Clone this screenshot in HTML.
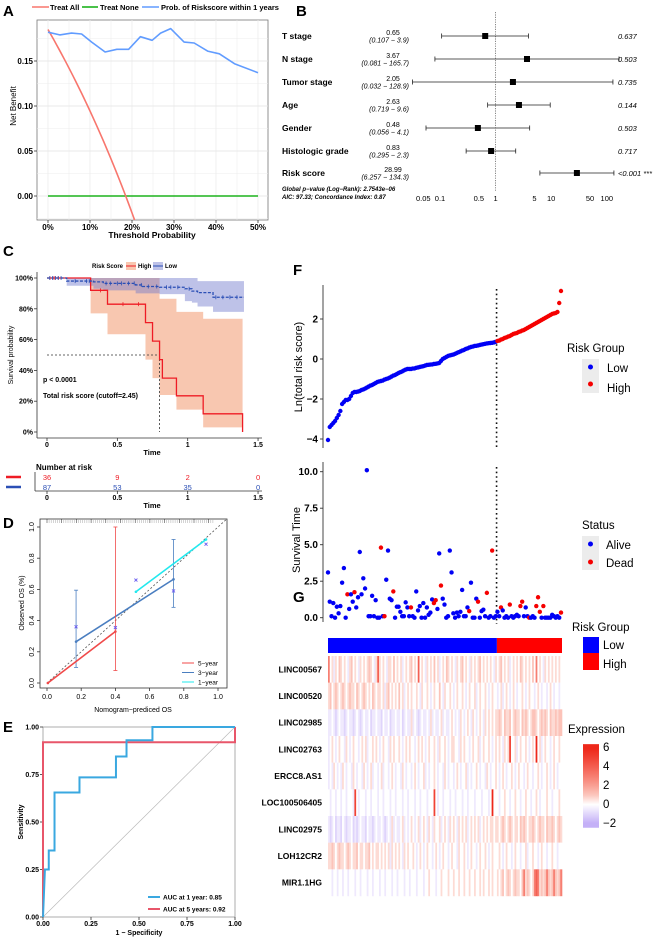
<!DOCTYPE html>
<html><head><meta charset="utf-8"><style>
body{margin:0;background:#fff}
svg{display:block;font-family:"Liberation Sans",sans-serif}
</style></head><body>
<svg id="fig" width="657" height="938" viewBox="0 0 657 938"></svg>
<script>
// ---------- Panel A data ----------
const dcaThresh=[0,2.8,5.6,8,10.4,13.6,16.4,19.2,22,24.8,26.8,29.2,32.4,34.8,38,40.8,44.4,50];
const dcaModel=[0.182,0.179,0.181,0.180,0.171,0.160,0.163,0.163,0.177,0.173,0.181,0.186,0.171,0.170,0.161,0.158,0.147,0.137];
const dcaPrev=0.185;
const dcaYTicks=[0,0.05,0.10,0.15];
const dcaXTicks=[0,10,20,30,40,50];
// ---------- Panel B data ----------
const fpVars=["T stage","N stage","Tumor stage","Age","Gender","Histologic grade","Risk score"];
const fpHR=[0.65,3.67,2.05,2.63,0.48,0.83,28.99];
const fpLo=[0.107,0.081,0.032,0.719,0.056,0.295,6.257];
const fpHi=[3.9,165.7,128.9,9.6,4.1,2.3,134.3];
const fpP=["0.637","0.503","0.735","0.144","0.503","0.717","<0.001 ***"];
const fpTicks=[0.05,0.1,0.5,1,5,10,50,100];
// ---------- Panel C data ----------
const kmHighT=[0,0.31,0.43,0.70,0.75,0.80,0.82,0.92,1.11,1.39];
const kmHighS=[1,0.92,0.83,0.71,0.59,0.47,0.35,0.235,0.118,0];
const kmHighU=[1,1,1,1,1,0.865,0.865,0.78,0.735,0.735];
const kmHighL=[1,0.77,0.635,0.47,0.35,0.24,0.24,0.145,0.03,0.03];
const kmLowT=[0,0.14,0.33,0.40,0.63,0.68,0.80,0.98,1.03,1.07,1.18,1.40];
const kmLowS=[1,0.98,0.975,0.965,0.955,0.945,0.94,0.93,0.915,0.905,0.875,0.875];
const kmLowU=[1,1,1,1,1,1,1,1,1,0.98,0.98,0.98];
const kmLowL=[1,0.95,0.93,0.92,0.9,0.9,0.895,0.85,0.84,0.815,0.78,0.78];
const censHigh=[0.02,0.05,0.08,0.38,0.54,0.65];
const censLow=[0.02,0.04,0.06,0.08,0.1,0.2,0.28,0.3,0.42,0.45,0.5,0.53,0.58,0.62,0.67,0.72,0.78,0.85,0.88,0.93,1.01,1.2,1.25,1.3,1.35];
const riskTimes=[0,0.5,1,1.5];
const riskHighN=[36,9,2,0];
const riskLowN=[87,53,35,0];
// ---------- Panel D data ----------
const cal5x=[0.005,0.40], cal5y=[0.0,0.33], cal5lo=[0,0.08], cal5hi=[0,1.0];
const cal3x=[0.17,0.74], cal3y=[0.265,0.665], cal3lo=[0.10,0.485], cal3hi=[0.595,0.92];
const cal1x=[0.52,0.93], cal1y=[0.585,0.92];
const calObsX=[0.17,0.40,0.74,0.52,0.93], calObsY=[0.36,0.355,0.59,0.66,0.89];
// ---------- Panel E data ----------
const roc1x=[0,0.01,0.03,0.03,0.06,0.06,0.19,0.19,0.38,0.38,0.435,0.435,0.57,0.57,1];
const roc1y=[0,0.25,0.25,0.35,0.35,0.655,0.655,0.735,0.735,0.845,0.845,0.93,0.93,1,1];
const roc5x=[0,0,1,1];
const roc5y=[0,0.92,0.92,1];
// ---------- Panel F data ----------
const riskLow=[-4.05,-3.4,-3.3,-3.2,-3.1,-2.95,-2.8,-2.6,-2.25,-2.15,-2.05,-2.05,-2.0,-1.85,-1.7,-1.65,-1.65,-1.63,-1.6,-1.55,-1.52,-1.48,-1.43,-1.38,-1.33,-1.3,-1.25,-1.2,-1.15,-1.12,-1.1,-1.08,-1.03,-1.0,-0.97,-0.93,-0.88,-0.83,-0.8,-0.75,-0.7,-0.66,-0.62,-0.57,-0.53,-0.5,-0.5,-0.5,-0.48,-0.47,-0.44,-0.42,-0.4,-0.38,-0.36,-0.33,-0.3,-0.29,-0.28,-0.27,-0.25,-0.24,-0.22,-0.2,-0.1,0.0,0.05,0.1,0.15,0.18,0.2,0.22,0.26,0.3,0.34,0.38,0.42,0.45,0.5,0.53,0.57,0.6,0.62,0.65,0.66,0.68,0.7,0.72,0.74,0.76,0.78,0.79,0.8,0.81,0.83,0.86];
const riskHigh=[0.9,0.92,0.97,1.0,1.05,1.08,1.12,1.15,1.2,1.25,1.28,1.3,1.35,1.38,1.42,1.45,1.5,1.55,1.6,1.65,1.7,1.75,1.8,1.85,1.9,1.95,2.0,2.05,2.1,2.15,2.2,2.25,2.28,2.3,2.35,2.8,3.4];
const survTime=[3.1,1.1,0.1,1.0,0,0.75,0.3,0.8,2.4,3.4,0,1.6,0.6,1.6,1.1,1.75,0.7,1.4,4.5,1.6,2.7,2.0,10.1,0.1,0.1,1.5,0.1,1.2,0,0,4.8,0.1,0.1,2.6,4.6,1.3,1.2,1.8,0,0.75,0.75,0.4,0.1,0.1,1.05,0.7,0.1,0.7,0.1,0,1.8,0.5,0.8,0,1.0,0,0.7,0.2,0.35,1.25,1.0,1.2,0.6,4.4,2.2,1.3,0.9,0,0.1,4.6,3.1,0.3,0,0.35,0.1,0.4,1.9,0.1,0.1,0.7,0.45,2.4,0,0,1.3,1.1,0,0.45,0.55,0.1,1.7,0,0.1,4.6,0,0.1,
0.4,0.1,0.7,0.5,0,0.1,0,0.9,0.1,0,0.1,0.2,0.1,0.8,1.1,0.1,0.7,0.1,0,0,0.1,0,0.8,1.4,0.4,0,0.8,0,0,0,0,0.2,0.1,0,0.1,0,0.35];
const survDead=[0,0,0,0,0,0,0,0,0,0,0,1,0,0,0,1,0,0,0,0,0,0,0,0,0,0,0,0,0,0,1,0,1,0,0,0,0,1,0,0,0,0,0,0,0,0,0,1,0,0,0,0,0,0,0,0,0,0,0,0,1,1,0,0,1,0,0,0,0,0,0,0,0,0,0,0,0,0,0,0,1,0,0,0,0,1,0,0,0,0,1,0,0,1,0,0,
0,0,1,0,0,0,0,1,0,0,0,0,0,1,1,0,0,0,1,0,0,0,1,1,1,0,1,0,0,0,0,0,0,0,0,0,1];
// ---------- Panel G data ----------
const genes=["LINC00567","LINC00520","LINC02985","LINC02763","ERCC8.AS1","LOC100506405","LINC02975","LOH12CR2","MIR1.1HG"];
const expr1=[3,0,1,-1,1,0,2,1,0,1,0,-1,1,2,0,1,0,-1,1,0,1,0,1,2,1,0,-1,1,4,1,0,1,0,-1,1,1,0,2,0,1,0,1,-1,0,1,0,1,2,0,1,0,4,0,1,0,-1,1,0,1,0,2,0,1,-1,0,1,0,2,1,0,1,0,-1,1,0,1,2,0,1,0,-1,1,0,1,0,1,2,0,1,0,1,0,1,0,-1,1,0,1,2,0,1,0,1,-1,0,1,0,1,0,2,1,0,1,0,1,0,2,0,3,0,1,0,-1,1,0,1,0,1,0,1,0,1,0];
const expr2=[1,2,0,1,2,1,0,1,2,1,0,1,2,1,1,0,2,1,0,1,2,1,0,1,0,2,1,0,1,1,0,1,-1,1,2,0,1,0,1,0,2,0,1,-1,0,1,0,1,0,0,1,0,-1,1,0,0,1,0,-1,0,1,0,0,2,0,-1,1,0,0,1,0,-1,0,1,0,0,1,0,-1,0,1,0,0,1,-1,0,1,0,0,1,0,-1,0,1,0,0,-1,0,1,-1,0,1,0,-1,0,1,0,-1,0,0,1,0,-1,0,1,0,0,-1,0,1,0,-1,0,0,-1,0,1,0,-1,0,0,-1,0];
const expr3=[-1,-1,0,-1,-2,-1,0,-1,-1,-2,-1,0,-1,-1,-2,-1,0,-1,-2,-1,0,-1,-1,0,-2,-1,-1,0,-1,-1,-2,0,-1,-1,0,-2,-1,-1,0,-1,-1,0,-2,-1,0,-1,-1,1,-1,0,-1,-2,-1,0,-1,-1,0,-1,1,-1,0,-1,-1,0,1,-1,0,-1,-1,0,1,0,-1,0,-1,1,0,-1,0,1,0,-1,1,0,-1,0,1,0,-1,1,0,1,0,1,0,1,1,2,1,0,2,1,1,2,0,1,2,1,1,0,2,1,2,1,0,1,2,2,1,0,1,2,1,2,1,0,2,1,1,2,1,2,2];
const expr4=[-1,0,1,0,-1,0,1,0,0,-1,1,0,-1,0,1,0,0,-1,0,1,0,1,-1,0,0,1,0,1,0,-1,0,1,0,0,-1,1,0,1,0,0,1,0,-1,0,1,0,1,0,0,-1,0,1,0,1,0,-1,0,1,0,0,1,0,-1,1,0,0,1,0,-1,0,1,1,0,0,-1,1,0,1,0,0,-1,0,1,0,0,1,-1,0,1,0,0,1,0,-1,0,1,0,1,0,-1,1,0,1,5,0,0,1,-1,0,1,0,0,1,0,-1,0,1,0,6,0,1,-1,0,1,0,0,-1,0,1,0,0,1,0];
const expr5=[-1,0,-1,1,0,-1,0,-1,1,0,-1,0,0,-1,1,0,-1,0,0,-1,1,0,-1,0,1,-1,0,0,-1,0,1,-1,0,0,-1,0,1,0,-1,0,0,-1,1,0,-1,0,0,-1,0,1,0,-1,0,0,1,-1,0,-1,0,0,1,0,-1,0,0,-1,1,0,-1,0,0,-1,0,1,0,-1,0,0,1,-1,0,-1,0,0,1,0,-1,0,0,-1,1,0,-1,0,0,1,0,-1,0,1,0,-1,0,0,1,0,-1,0,1,0,0,-1,0,1,0,0,-1,0,0,1,0,-1,0,0,1,0,-1,0,1,0,-1,0,0];
const expr6=[0,-1,0,0,-1,0,0,-1,0,0,-1,0,0,0,-1,5,0,-1,0,0,0,-1,0,0,-1,0,0,0,-1,0,0,-1,0,0,0,-1,0,0,-1,0,0,0,-1,0,0,-1,0,0,0,-1,0,0,-1,0,0,0,-1,0,0,0,5,0,-1,0,0,-1,0,0,0,-1,0,0,-1,0,0,0,-1,0,0,-1,0,0,0,-1,0,0,0,-1,0,0,0,-1,0,6,0,0,0,-1,0,0,1,0,0,-1,0,0,1,0,0,-1,0,0,1,0,0,-1,0,0,1,0,-1,0,0,0,1,0,0,-1,0,0,0,1,0];
const expr7=[-1,-2,-1,0,-2,-1,-1,-2,0,-1,-2,-1,-1,0,-2,-1,-2,-1,0,-1,-1,-2,0,-1,-1,-2,-1,0,-1,-1,0,-1,-2,-1,0,-1,1,-1,0,-1,-1,0,1,-1,0,-1,0,1,0,-1,0,1,-1,0,1,0,-1,1,0,-1,1,0,0,1,-1,0,1,0,-1,1,0,1,0,-1,1,0,1,0,1,-1,0,1,0,1,0,1,-1,0,1,0,1,0,1,1,0,1,1,0,1,2,1,0,1,2,1,0,1,1,0,2,1,2,1,0,1,1,2,1,0,1,2,1,1,0,2,1,1,2,1,0,1,2,1];
const expr8=[1,1,2,1,0,1,2,1,1,0,1,2,1,0,1,1,2,0,1,1,0,1,1,2,0,1,0,1,1,0,1,0,1,0,1,-1,1,0,1,0,1,0,-1,1,0,1,0,0,1,0,-1,0,1,0,-1,0,1,0,0,-1,0,1,0,-1,0,1,0,0,-1,0,1,0,0,-1,1,0,0,1,0,-1,0,1,0,0,-1,0,1,0,0,1,0,-1,0,1,0,0,0,1,0,-1,0,1,0,0,-1,0,1,0,0,-1,0,0,1,-1,0,0,1,0,0,-1,0,1,0,0,-1,0,0,1,0,0,-1,0,0];
const expr9=[0,0,-1,0,0,-1,0,0,-1,0,0,-1,0,0,0,-1,0,0,-1,0,0,0,-1,0,0,-1,0,0,0,-1,0,0,-1,0,0,0,-1,0,0,-1,0,0,0,-1,0,0,-1,0,0,0,-1,0,0,0,-1,0,0,1,0,0,0,-1,0,0,1,0,0,0,1,0,0,1,0,0,1,0,0,1,0,0,1,0,0,1,0,0,1,0,1,0,0,1,0,1,0,0,1,0,1,2,0,1,2,1,0,1,2,1,1,0,2,3,1,2,1,0,1,3,4,3,1,2,1,2,3,2,1,2,3,2,1,2,3];
const exprRows=[expr1,expr2,expr3,expr4,expr5,expr6,expr7,expr8,expr9];
const exprTicks=[6,4,2,0,-2];

// ---------- helpers ----------
const NS="http://www.w3.org/2000/svg";
const svg=document.getElementById('fig');
function mk(tag,attrs,parent,text){const e=document.createElementNS(NS,tag);for(const k in attrs)e.setAttribute(k,attrs[k]);if(text!==undefined)e.textContent=text;(parent||svg).appendChild(e);return e;}
function grp(name){const g=mk('g',{});return g;}
function txt(g,x,y,s,o){o=o||{};const a={x:x,y:y,'font-size':o.fs||8,fill:o.fill||'#000','text-anchor':o.anchor||'start'};if(o.bold)a['font-weight']='bold';if(o.italic)a['font-style']='italic';if(o.rot!==undefined)a.transform='rotate('+o.rot+' '+x+' '+y+')';return mk('text',a,g,s);}
function line(g,x1,y1,x2,y2,st,w,dash){const a={x1:x1,y1:y1,x2:x2,y2:y2,stroke:st,'stroke-width':w||1};if(dash)a['stroke-dasharray']=dash;return mk('line',a,g);}
function stepPts(t,s,xs,ys){let d='';for(let i=0;i<t.length;i++){if(i===0)d+='M'+xs(t[0])+','+ys(s[0]);else d+='L'+xs(t[i])+','+ys(s[i-1])+'L'+xs(t[i])+','+ys(s[i]);}return d;}

// ================= Panel A =================
(function(){
const g=grp('panel-a-decision-curve');
const xs=v=>48+v*4.2, ys=v=>196-v*900;
txt(g,3,16,'A',{fs:15,bold:true});
mk('rect',{x:37,y:20,width:231,height:200,fill:'#fff',stroke:'#777','stroke-width':0.8},g);
for(let v=0;v<=50;v+=5)line(g,xs(v),20,xs(v),220,'#ececec',v%10===0?0.8:0.5);
for(let v=-0.025;v<=0.175;v+=0.025)line(g,37,ys(v),268,ys(v),'#ececec',0.5);
dcaYTicks.forEach(v=>{line(g,37,ys(v),268,ys(v),'#e4e4e4',0.8);line(g,34,ys(v),37,ys(v),'#333',0.8);txt(g,33,ys(v)+3,v.toFixed(2),{fs:8,bold:true,anchor:'end'});});
dcaXTicks.forEach(v=>{line(g,xs(v),220,xs(v),223,'#333',0.8);txt(g,xs(v),230,v+'%',{fs:8,bold:true,anchor:'middle'});});
txt(g,152,238,'Threshold Probability',{fs:8.5,bold:true,anchor:'middle'});
txt(g,16,106,'Net Benefit',{fs:8,anchor:'middle',rot:-90});
const cp=mk('clipPath',{id:'clipA'},g);mk('rect',{x:37,y:20,width:231,height:200},cp);
const pg=mk('g',{'clip-path':'url(#clipA)'},g);
const green=line(pg,xs(0),ys(0),xs(50),ys(0),'#1db31d',1.6);

let d='';for(let t=0;t<=30;t+=0.5){const p=t/100;const nb=dcaPrev-(1-dcaPrev)*p/(1-p);d+=(t===0?'M':'L')+xs(t)+','+ys(nb);}
const red=mk('path',{d:d,fill:'none',stroke:'#f8766d','stroke-width':1.6},pg);

d='';dcaThresh.forEach((t,i)=>{d+=(i===0?'M':'L')+xs(t)+','+ys(dcaModel[i]);});
const blue=mk('path',{d:d,fill:'none',stroke:'#619cff','stroke-width':1.6,'stroke-linejoin':'round'},pg);

const lg=grp('panel-a-legend');g.appendChild(lg);
line(lg,32,7,49,7,'#f8766d',1.6);txt(lg,50,10,'Treat All',{fs:7.5,bold:true});
line(lg,82,7,98,7,'#1db31d',1.6);txt(lg,100,10,'Treat None',{fs:7.5,bold:true});
line(lg,142,7,159,7,'#619cff',1.6);txt(lg,161,10,'Prob. of Riskscore within 1 years',{fs:7.5,bold:true});
})();

// ================= Panel B =================
(function(){
const g=grp('panel-b-forest-plot');
txt(g,296,16,'B',{fs:15,bold:true});
const xs=v=>440+Math.log10(v/0.1)*55.6;
const rowY=[36,59,82,105,128,151,173];
line(g,xs(1),12,xs(1),192,'#555',0.7,'1.2,1.2');
fpVars.forEach((n,i)=>{
  const y=rowY[i];
  txt(g,282,y+3,n,{fs:8.5,bold:true});
  txt(g,393,y-1,fpHR[i].toFixed(2),{fs:7,anchor:'middle'});
  const lo=fpLo[i].toString(),hi=fpHi[i].toFixed(1);
  txt(g,409,y+6.5,'('+lo+' − '+hi+')',{fs:7,italic:true,anchor:'end'});
  const b=grp('forest-row-'+i);g.appendChild(b);
  line(b,xs(fpLo[i]),y,xs(fpHi[i]),y,'#222',0.8);
  line(b,xs(fpLo[i]),y-2.5,xs(fpLo[i]),y+2.5,'#222',0.8);
  line(b,xs(fpHi[i]),y-2.5,xs(fpHi[i]),y+2.5,'#222',0.8);
  mk('rect',{x:xs(fpHR[i])-3,y:y-3,width:6,height:6,fill:'#000'},b);
  txt(g,618,y+3,fpP[i],{fs:7.5,italic:true});
});
fpTicks.forEach(v=>txt(g,xs(v),201,String(v),{fs:7.5,anchor:'middle'}));
txt(g,282,191,'Global p−value (Log−Rank): 2.7543e−06',{fs:6,italic:true,bold:true});
txt(g,282,199,'AIC: 97.33; Concordance Index: 0.87',{fs:6,italic:true,bold:true});
})();

// ================= Panel C =================
(function(){
const g=grp('panel-c-km-curve');
txt(g,3,256,'C',{fs:15,bold:true});
const xs=v=>47+v*140.7, ys=v=>432-154*v;
function band(T,U,L,fill,name){let top='',bot='';for(let i=0;i<T.length;i++){const x0=xs(T[i]),x1=xs(i<T.length-1?T[i+1]:T[i]);top+=(i===0?'M':'L')+x0+','+ys(U[i])+'L'+x1+','+ys(U[i]);}
  for(let i=T.length-1;i>=0;i--){const x0=xs(T[i]),x1=xs(i<T.length-1?T[i+1]:T[i]);bot+='L'+x1+','+ys(L[i])+'L'+x0+','+ys(L[i]);}
  const p=mk('path',{d:top+bot+'Z',fill:fill},g);}
band(kmHighT,kmHighU,kmHighL,'rgba(240,130,80,0.45)','high-risk-ci');
band(kmLowT,kmLowU,kmLowL,'rgba(110,120,205,0.45)','low-risk-ci');
line(g,xs(0),ys(0.5),xs(0.8),ys(0.5),'#333',0.8,'2,2');
line(g,xs(0.8),ys(0.5),xs(0.8),ys(0),'#333',0.8,'2,2');
const ph=mk('path',{d:stepPts(kmHighT,kmHighS,xs,ys),fill:'none',stroke:'#ee1c25','stroke-width':1.3},g);

const pl=mk('path',{d:stepPts(kmLowT,kmLowS,xs,ys),fill:'none',stroke:'#2b4fb5','stroke-width':1.3,'stroke-dasharray':'3,1.5'},g);

function survAt(T,S,t){let s=S[0];for(let i=0;i<T.length;i++)if(T[i]<=t)s=S[i];return s;}
censHigh.forEach(t=>{const x=xs(t),y=ys(survAt(kmHighT,kmHighS,t));line(g,x,y-2,x,y+2,'#ee1c25',0.8);});
censLow.forEach(t=>{const x=xs(t),y=ys(survAt(kmLowT,kmLowS,t));line(g,x,y-2,x,y+2,'#2b4fb5',0.8);});
line(g,37,272,37,438,'#333',0.8);line(g,37,438,262,438,'#333',0.8);
[0,0.2,0.4,0.6,0.8,1].forEach(v=>{line(g,34,ys(v),37,ys(v),'#333',0.8);txt(g,33,ys(v)+2.5,Math.round(v*100)+'%',{fs:7,bold:true,anchor:'end'});});
riskTimes.forEach(v=>{line(g,xs(v),438,xs(v),441,'#333',0.8);txt(g,xs(v),447,String(v),{fs:7,bold:true,anchor:'middle'});});
txt(g,152,455,'Time',{fs:7.5,bold:true,anchor:'middle'});
txt(g,13,355,'Survival probability',{fs:7,anchor:'middle',rot:-90});
txt(g,43,382,'p < 0.0001',{fs:7,bold:true});
txt(g,43,398,'Total risk score (cutoff=2.45)',{fs:7,bold:true});
const lg=grp('panel-c-legend');g.appendChild(lg);
txt(lg,92,268,'Risk Score',{fs:6,bold:true});
mk('rect',{x:126,y:262,width:10,height:8,fill:'rgba(240,130,80,0.45)'},lg);line(lg,126,266,136,266,'#ee1c25',1);
txt(lg,138,268,'High',{fs:6,bold:true});
mk('rect',{x:153,y:262,width:10,height:8,fill:'rgba(110,120,205,0.45)'},lg);line(lg,153,266,163,266,'#2b4fb5',1);
txt(lg,165,268,'Low',{fs:6,bold:true});
const rt=grp('number-at-risk-table');g.appendChild(rt);
txt(rt,36,470,'Number at risk',{fs:8,bold:true});
line(rt,6,477,21,477,'#ee1c25',2.5);line(rt,6,487,21,487,'#2b4fb5',2.5);
line(rt,35,472,35,491,'#333',0.8);line(rt,35,491,262,491,'#333',0.8);
riskTimes.forEach((v,i)=>{txt(rt,xs(v),480,String(riskHighN[i]),{fs:7.5,fill:'#ee1c25',anchor:'middle'});txt(rt,xs(v),490,String(riskLowN[i]),{fs:7.5,fill:'#2b4fb5',anchor:'middle'});
  line(rt,xs(v),491,xs(v),494,'#333',0.8);txt(rt,xs(v),500,String(v),{fs:7,bold:true,anchor:'middle'});});
txt(rt,152,508,'Time',{fs:7.5,bold:true,anchor:'middle'});
})();

// ================= Panel D =================
(function(){
const g=grp('panel-d-calibration');
txt(g,3,528,'D',{fs:15,bold:true});
const xs=v=>47+v*171, ys=v=>683-156*v;
mk('rect',{x:40,y:519,width:187,height:169,fill:'none',stroke:'#333','stroke-width':0.8},g);
for(let i=0;i<80;i++){const x=47+i*2.1;line(g,x,519,x,523,i%7===0?'#222':'#aaa',0.5);}
line(g,xs(0),ys(0),xs(1.05),ys(1.05),'#555',0.8,'2,2');
[0,0.2,0.4,0.6,0.8,1].forEach(v=>{line(g,xs(v),688,xs(v),691,'#333',0.8);txt(g,xs(v),699,v.toFixed(1),{fs:7,anchor:'middle'});
  line(g,37,ys(v),40,ys(v),'#333',0.8);txt(g,34,ys(v),v.toFixed(1),{fs:7,anchor:'middle',rot:-90});});
txt(g,133,712,'Nomogram−prediced OS',{fs:7,anchor:'middle'});
txt(g,24,603,'Observed OS (%)',{fs:7,anchor:'middle',rot:-90});
function series(x,y,lo,hi,col,name){const s=grp(name);g.appendChild(s);
  line(s,xs(x[0]),ys(y[0]),xs(x[1]),ys(y[1]),col,1.6);
  x.forEach((v,i)=>{mk('circle',{cx:xs(v),cy:ys(y[i]),r:1.3,fill:col},s);
   if(lo&&hi[i]>lo[i]){line(s,xs(v),ys(lo[i]),xs(v),ys(hi[i]),col,0.8);line(s,xs(v)-2,ys(lo[i]),xs(v)+2,ys(lo[i]),col,0.8);line(s,xs(v)-2,ys(hi[i]),xs(v)+2,ys(hi[i]),col,0.8);}});}
series(cal3x,cal3y,cal3lo,cal3hi,'#4a7ec0','calibration-3-year');
series(cal5x,cal5y,cal5lo,cal5hi,'#f04a4a','calibration-5-year');
series(cal1x,cal1y,null,null,'#22e8ee','calibration-1-year');
calObsX.forEach((v,i)=>{const x=xs(v),y=ys(calObsY[i]);line(g,x-1.5,y-1.5,x+1.5,y+1.5,'#6a5cf0',0.9);line(g,x-1.5,y+1.5,x+1.5,y-1.5,'#6a5cf0',0.9);});
const lg=grp('panel-d-legend');g.appendChild(lg);
[['5−year','#f04a4a'],['3−year','#4a7ec0'],['1−year','#22e8ee']].forEach((e,i)=>{const y=663+i*9.5;line(lg,182,y,194,y,e[1],1);txt(lg,198,y+2.5,e[0],{fs:6.5});});
})();

// ================= Panel E =================
(function(){
const g=grp('panel-e-roc');
txt(g,3,732,'E',{fs:15,bold:true});
const xs=v=>43+192*v, ys=v=>917-190*v;
mk('rect',{x:43,y:727,width:192,height:190,fill:'#fff',stroke:'#999','stroke-width':0.8},g);
line(g,xs(0),ys(0),xs(1),ys(1),'#bbb',0.7);
[0,0.25,0.5,0.75,1].forEach(v=>{line(g,xs(v),917,xs(v),920,'#333',0.8);txt(g,xs(v),926,v.toFixed(2),{fs:7,bold:true,anchor:'middle'});
  line(g,40,ys(v),43,ys(v),'#333',0.8);txt(g,39,ys(v)+2.5,v.toFixed(2),{fs:7,bold:true,anchor:'end'});});
txt(g,139,935,'1 − Specificity',{fs:7,bold:true,anchor:'middle'});
txt(g,23,822,'Sensitivity',{fs:7,bold:true,anchor:'middle',rot:-90});
let d='';roc5x.forEach((v,i)=>d+=(i?'L':'M')+xs(v)+','+ys(roc5y[i]));
const r5=mk('path',{d:d,fill:'none',stroke:'#e8566a','stroke-width':2},g);
d='';roc1x.forEach((v,i)=>d+=(i?'L':'M')+xs(v)+','+ys(roc1y[i]));
const r1=mk('path',{d:d,fill:'none',stroke:'#3aa8e0','stroke-width':2},g);
const lg=grp('panel-e-legend');g.appendChild(lg);
line(lg,148,897,160,897,'#3aa8e0',2);txt(lg,163,899.5,'AUC at 1 year: 0.85',{fs:6.5,bold:true});
line(lg,148,909,160,909,'#e8566a',2);txt(lg,163,911.5,'AUC at 5 years: 0.92',{fs:6.5,bold:true});
})();

// ================= Panel F =================
(function(){
const g=grp('panel-f-risk-plots');
txt(g,293,275,'F',{fs:15,bold:true});
const allRisk=riskLow.concat(riskHigh);const N=allRisk.length;
const xs=i=>328+i*(233/(N-1));
const ysR=v=>359-20*v, ysT=v=>617.7-14.6*v;
const cut=(xs(riskLow.length-1)+xs(riskLow.length))/2;
line(g,323,285,323,448,'#333',0.9);
[2,0,-2,-4].forEach(v=>{line(g,320,ysR(v),323,ysR(v),'#333',0.9);txt(g,318,ysR(v)+3.5,v<0?'−'+(-v):String(v),{fs:10,bold:true,anchor:'end'});});
txt(g,302,367,'Ln(total risk score)',{fs:11,anchor:'middle',rot:-90});
line(g,cut,289,cut,449,'#111',1.6,'1.6,3');
const dots=grp('risk-score-points');g.appendChild(dots);
allRisk.forEach((v,i)=>{mk('circle',{cx:xs(i),cy:ysR(v),r:2.2,fill:i<riskLow.length?'#0000f5':'#f50000'},dots);});
line(g,323,462,323,622,'#333',0.9);
[0,2.5,5,7.5,10].forEach(v=>{line(g,320,ysT(v),323,ysT(v),'#333',0.9);txt(g,318,ysT(v)+3.5,v.toFixed(1),{fs:10,bold:true,anchor:'end'});});
txt(g,300,540,'Survival Time',{fs:11,anchor:'middle',rot:-90});
line(g,cut,467,cut,624,'#111',1.6,'1.6,3');
const sd=grp('survival-time-points');g.appendChild(sd);
survTime.forEach((v,i)=>{mk('circle',{cx:xs(i),cy:ysT(v),r:2.2,fill:survDead[i]?'#f50000':'#0000f5'},sd);});
const l1=grp('risk-group-legend');g.appendChild(l1);
txt(l1,567,352,'Risk Group',{fs:11.5});
mk('rect',{x:582,y:359,width:17,height:34,fill:'#ececec'},l1);
mk('circle',{cx:590.5,cy:367,r:2.5,fill:'#0000f5'},l1);mk('circle',{cx:590.5,cy:384,r:2.5,fill:'#f50000'},l1);
txt(l1,607,372,'Low',{fs:11.5});txt(l1,607,392,'High',{fs:11.5});
const l2=grp('status-legend');g.appendChild(l2);
txt(l2,582,529,'Status',{fs:11.5});
mk('rect',{x:582,y:536,width:17,height:34,fill:'#ececec'},l2);
mk('circle',{cx:590.5,cy:544,r:2.5,fill:'#0000f5'},l2);mk('circle',{cx:590.5,cy:562,r:2.5,fill:'#f50000'},l2);
txt(l2,606,549,'Alive',{fs:11.5});txt(l2,606,567,'Dead',{fs:11.5});
})();

// ================= Panel G =================
(function(){
const g=grp('panel-g-heatmap');
txt(g,293,602,'G',{fs:15,bold:true});
const N=riskLow.length+riskHigh.length;
const x0=328,x1=562,cw=(x1-x0)/N;
const cut=x0+riskLow.length*cw;
const aL=mk('rect',{x:x0,y:638,width:cut-x0,height:15,fill:'#0000ff'},g);

const aH=mk('rect',{x:cut,y:638,width:x1-cut,height:15,fill:'#ff0000'},g);

function colPos(v){
  if(v<=0){const t=Math.min(-v/2.2,1);return 'rgb('+Math.round(255-(255-190)*t)+','+Math.round(255-(255-168)*t)+','+Math.round(255-(255-246)*t)+')';}
  const t=Math.min(v/6,1);
  const r=Math.round(255-17*t),gg=Math.round(255-215*Math.pow(t,0.75)),b=Math.round(255-229*Math.pow(t,0.7));return 'rgb('+r+','+gg+','+b+')';}
const rowH=(896-656)/genes.length;
const hm=grp('heatmap-cells');g.appendChild(hm);
exprRows.forEach((row,r)=>{const y=656+r*rowH;
  row.forEach((v,i)=>{const sc=v>=3?v:v*0.55;mk('rect',{x:x0+i*cw,y:y,width:cw+0.3,height:rowH+0.2,fill:colPos(sc)},hm);});
  txt(g,322,y+rowH/2+3,genes[r],{fs:8.5,bold:true,anchor:'end'});});
const l1=grp('heatmap-risk-legend');g.appendChild(l1);
txt(l1,572,631,'Risk Group',{fs:11.5});
mk('rect',{x:583,y:637,width:16,height:16,fill:'#0000ff'},l1);mk('rect',{x:583,y:653,width:16,height:17,fill:'#ff0000'},l1);
txt(l1,603,649,'Low',{fs:11.5});txt(l1,603,668,'High',{fs:11.5});
const l2=grp('expression-color-legend');g.appendChild(l2);
txt(l2,568,733,'Expression',{fs:11.5});
const ey=v=>804-9.5*v;
const grad=mk('linearGradient',{id:'expGrad',x1:0,y1:1,x2:0,y2:0},l2);
for(let k=0;k<=8;k++){const v=-2+k;mk('stop',{offset:((v+2.5)/9).toFixed(3),'stop-color':colPos(v)},grad);}
mk('rect',{x:583,y:ey(6.3),width:16,height:ey(-2.5)-ey(6.3),fill:'url(#expGrad)'},l2);
exprTicks.forEach(v=>txt(l2,603,ey(v)+4,v<0?'−'+(-v):String(v),{fs:11.5}));
})();
</script>
</body></html>
